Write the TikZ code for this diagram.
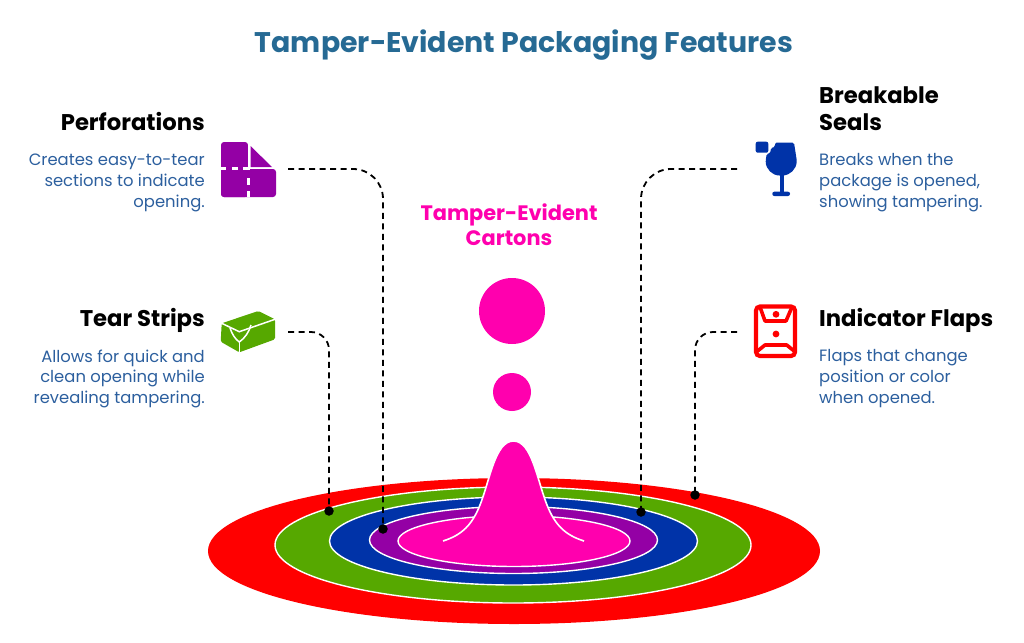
\documentclass[tikz,border=0pt]{standalone}
\usepackage{fontspec}
\setmainfont{Poppins}
\usetikzlibrary{positioning}
\definecolor{ringred}{HTML}{FF0000}
\definecolor{ringgreen}{HTML}{56A800}
\definecolor{ringblue}{HTML}{0033A8}
\definecolor{ringpurple}{HTML}{9400A5}
\definecolor{ringpink}{HTML}{FF00AE}
\definecolor{titleblue}{HTML}{266A94}
\definecolor{bodyblue}{HTML}{2C5F9E}
\begin{document}
\begin{tikzpicture}
	[x=1pt,y=-1pt,
	ring/.style={draw=white,line width=1.4pt},
	head/.style={font=\fontsize{22.7}{27}\selectfont\bfseries,text=black,inner sep=0pt},
	bodyleft/.style={font=\fontsize{16.4}{20.7}\selectfont,text=bodyblue,align=right,inner sep=0pt},
	bodyright/.style={font=\fontsize{16.4}{20.7}\selectfont,text=bodyblue,align=left,inner sep=0pt},
	leader/.style={draw=black,line width=1.8pt,dash pattern=on 6pt off 4.5pt},
	dot/.style={circle,fill=black,inner sep=0pt,minimum size=9.5pt},
	ball/.style={circle,fill=ringpink,inner sep=0pt}]
	\useasboundingbox (0,0) rectangle (1024,642);
	\node[font=\fontsize{28.4}{32}\selectfont\bfseries,text=titleblue] (title) at (524,45) {Tamper-Evident Packaging Features};
	\fill[ringred] (514,551) ellipse [x radius=306,y radius=73];
	\draw[ring,fill=ringgreen] (513,545) ellipse [x radius=238,y radius=58];
	\draw[ring,fill=ringblue] (513.5,541) ellipse [x radius=184,y radius=44];
	\draw[ring,fill=ringpurple] (513.5,540) ellipse [x radius=144,y radius=33.5];
	\draw[ring,fill=ringpink] (514,541) ellipse [x radius=116,y radius=25.5];
	\fill[ringpink] (443,541) .. controls (462,535) and (472,525) .. (480,505) .. controls (490,480) and (495,441) .. (513.5,441) .. controls (532,441) and (537,480) .. (547,505) .. controls (555,525) and (565,535) .. (584,541) -- cycle;
	\draw[white,line width=1.6pt] (443,541) .. controls (462,535) and (472,525) .. (480,505) .. controls (490,480) and (495,441) .. (513.5,441) .. controls (532,441) and (537,480) .. (547,505) .. controls (555,525) and (565,535) .. (584,541);
	\node[font=\fontsize{20.9}{25}\selectfont\bfseries,text=ringpink,align=center] (center) at (509,225) {Tamper-Evident\\Cartons};
	\node[ball,minimum size=66pt] (bigball) at (512,311) {};
	\node[ball,minimum size=38pt] (smallball) at (512,392) {};
	\node[head,anchor=east] (perfhead) at (205,121.5) {Perforations};
	\node[bodyleft,below left=23pt and 0pt of perfhead.south east] (perfbody) {Creates easy-to-tear\\sections to indicate\\opening.};
	\node[head,anchor=east] (tearhead) at (205,320) {Tear Strips};
	\node[bodyleft,below left=17pt and 0pt of tearhead.south east] (tearbody) {Allows for quick and\\clean opening while\\revealing tampering.};
	\node[head,anchor=north west,align=left] (sealhead) at (819,87) {Breakable\\Seals};
	\node[bodyright,below right=22pt and 0pt of sealhead.south west] (sealbody) {Breaks when the\\package is opened,\\showing tampering.};
	\node[head,anchor=west] (flaphead) at (819,320) {Indicator Flaps};
	\node[bodyright,below right=17pt and 0pt of flaphead.south west] (flapbody) {Flaps that change\\position or color\\when opened.};
	\fill[ringpurple,rounded corners=3pt] (221,142) rectangle (248,197);
	\fill[ringpurple,rounded corners=3pt] (221,169) rectangle (276,197);
	\fill[ringpurple] (240,169) rectangle (260,185);
	\fill[ringpurple] (250.5,146) -- (272,167) -- (250.5,167) -- cycle;
	\draw[white,line width=1.4pt] (248.5,142) -- (248.5,169);
	\draw[white,line width=1.4pt] (248.5,168.5) -- (276,168.5);
	\draw[white,line width=3pt] (221,168.5) -- (226,168.5) (232,168.5) -- (238,168.5) (243,168.5) -- (250,168.5);
	\draw[white,line width=3pt] (248.5,178) -- (248.5,185) (248.5,191) -- (248.5,197);
	\fill[ringgreen,rounded corners=1.5pt] (221.7,323.3) -- (258.3,311) -- (275,319.3) -- (275,339.3) -- (239.3,352.3) -- (220.7,341.7) -- cycle;
	\draw[white,line width=1.5pt] (221.7,323.3) -- (239.3,331.7) -- (275,319.3);
	\draw[white,line width=1.5pt] (230,328) .. controls (232,334) and (235,339) .. (239.3,342) .. controls (245,338) and (249,332) .. (251,325);
	\draw[white,line width=1.5pt] (239.3,342) -- (239.3,352.3);
	\fill[ringblue,rounded corners=1.5pt] (775,142.7) -- (775,146.7) -- (770.7,148.3) -- (770.7,152.7) -- (766.7,154) -- (765.7,160) .. controls (765.7,169) and (772,175.5) .. (781,175.5) .. controls (790,175.5) and (796.7,169) .. (796.7,160) -- (794,142.7) -- cycle;
	\fill[ringblue] (780,174) rectangle (784,193);
	\fill[ringblue,rounded corners=2pt] (772.3,191.7) rectangle (790,196);
	\fill[ringblue,rounded corners=2pt] (755.7,141.7) rectangle (768.3,152.7);
	\draw[ringred,line width=4.2pt,rounded corners=4pt] (756,306.5) rectangle (795,356);
	\draw[ringred,line width=3.6pt,line join=round] (760,307) -- (765,321) -- (786,321) -- (792,307);
	\draw[ringred,line width=3.6pt,line join=round] (756.7,351.7) -- (765,345) -- (786.7,345) -- (795,351.7);
	\fill[ringred] (776,314.3) circle [radius=3.4];
	\fill[ringred] (776,334) circle [radius=3.4];
	\coordinate (perfstart) at (288,169);
	\coordinate (tearstart) at (288,332);
	\coordinate (sealstart) at (737,169);
	\coordinate (flapstart) at (737,332);
	\node[dot] (perfdot) at (383,529) {};
	\node[dot] (teardot) at (329,511) {};
	\node[dot] (sealdot) at (641,512) {};
	\node[dot] (flapdot) at (695,495) {};
	\draw[leader,rounded corners=30pt] (perfstart) -| (perfdot.center);
	\draw[leader,rounded corners=18pt] (tearstart) -| (teardot.center);
	\draw[leader,rounded corners=30pt] (sealstart) -| (sealdot.center);
	\draw[leader,rounded corners=18pt] (flapstart) -| (flapdot.center);
\end{tikzpicture}
\end{document}
